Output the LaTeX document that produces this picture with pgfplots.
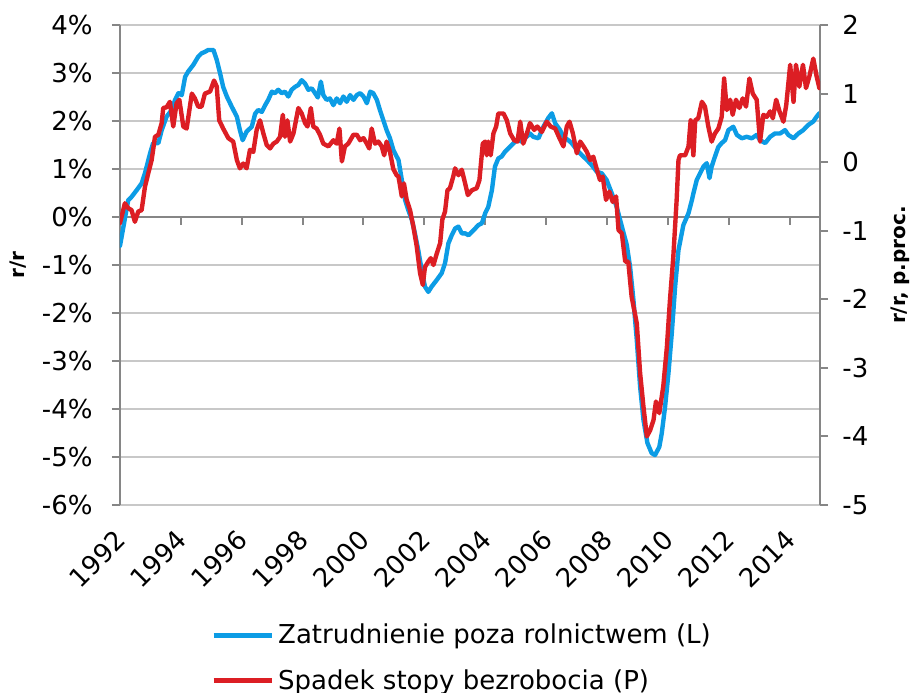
\documentclass[border=0pt]{standalone}
\usepackage{fontspec}
\setmainfont{DejaVu Sans}
\usepackage{pgfplots}
\usepackage{pgfplotstable}
\pgfplotsset{compat=1.18}

\definecolor{zblue}{RGB}{12,156,229}
\definecolor{sred}{RGB}{220,30,36}
\definecolor{gridc}{RGB}{200,200,200}
\definecolor{axc}{RGB}{134,134,134}

% Zatrudnienie poza rolnictwem, r/r w %
\pgfplotstableread{
year val
1992.00 -0.60
1992.27 0.35
1992.38 0.42
1992.55 0.56
1992.71 0.70
1992.82 0.91
1992.99 1.33
1993.09 1.54
1993.26 1.54
1993.37 1.81
1993.53 2.09
1993.70 2.23
1993.81 2.44
1993.92 2.58
1994.03 2.54
1994.14 2.92
1994.24 3.03
1994.41 3.17
1994.57 3.34
1994.68 3.41
1994.79 3.44
1994.90 3.48
1995.07 3.48
1995.18 3.27
1995.29 2.99
1995.39 2.71
1995.51 2.51
1995.67 2.30
1995.84 2.09
1995.94 1.81
1996.03 1.60
1996.16 1.78
1996.33 1.88
1996.44 2.15
1996.54 2.23
1996.66 2.19
1996.77 2.33
1996.87 2.44
1996.99 2.61
1997.09 2.58
1997.20 2.65
1997.31 2.58
1997.42 2.61
1997.53 2.51
1997.64 2.65
1997.75 2.71
1997.86 2.75
1997.97 2.85
1998.08 2.78
1998.19 2.65
1998.30 2.68
1998.41 2.58
1998.50 2.49
1998.60 2.82
1998.68 2.54
1998.79 2.44
1998.90 2.47
1999.01 2.33
1999.12 2.47
1999.23 2.37
1999.34 2.51
1999.45 2.40
1999.56 2.54
1999.67 2.44
1999.78 2.54
1999.89 2.58
2000.00 2.51
2000.11 2.37
2000.22 2.61
2000.32 2.58
2000.44 2.44
2000.54 2.23
2000.65 2.02
2000.76 1.81
2000.87 1.64
2000.98 1.40
2001.09 1.26
2001.15 1.19
2001.26 0.77
2001.37 0.35
2001.47 0.15
2001.59 -0.06
2001.69 -0.34
2001.80 -0.69
2001.91 -1.10
2002.02 -1.45
2002.13 -1.56
2002.24 -1.45
2002.41 -1.31
2002.57 -1.17
2002.68 -0.96
2002.79 -0.55
2002.90 -0.38
2003.01 -0.24
2003.12 -0.20
2003.23 -0.34
2003.34 -0.34
2003.45 -0.38
2003.56 -0.31
2003.67 -0.24
2003.77 -0.17
2003.89 -0.13
2004.00 0.08
2004.10 0.21
2004.22 0.56
2004.32 1.05
2004.43 1.22
2004.54 1.26
2004.65 1.36
2004.76 1.43
2004.87 1.50
2004.98 1.57
2005.09 1.60
2005.20 1.57
2005.31 1.64
2005.47 1.74
2005.58 1.67
2005.75 1.64
2005.91 1.88
2006.07 2.06
2006.19 2.16
2006.30 1.95
2006.46 1.81
2006.57 1.67
2006.73 1.60
2006.84 1.54
2007.01 1.40
2007.17 1.29
2007.34 1.19
2007.50 1.08
2007.67 0.94
2007.83 0.91
2007.99 0.77
2008.16 0.49
2008.32 0.21
2008.49 -0.20
2008.65 -0.58
2008.76 -1.04
2008.87 -1.73
2008.98 -2.56
2009.09 -3.54
2009.20 -4.23
2009.33 -4.71
2009.47 -4.92
2009.58 -4.96
2009.72 -4.79
2009.80 -4.51
2009.91 -3.95
2010.02 -3.26
2010.13 -2.42
2010.24 -1.45
2010.35 -0.69
2010.51 -0.17
2010.68 0.08
2010.79 0.35
2010.84 0.49
2010.95 0.77
2011.06 0.91
2011.17 1.05
2011.28 1.12
2011.37 0.81
2011.44 1.05
2011.55 1.26
2011.66 1.46
2011.77 1.54
2011.88 1.60
2011.99 1.81
2012.15 1.88
2012.27 1.71
2012.43 1.64
2012.59 1.67
2012.76 1.64
2012.92 1.71
2013.03 1.60
2013.20 1.54
2013.36 1.67
2013.52 1.74
2013.69 1.74
2013.85 1.81
2013.96 1.71
2014.13 1.64
2014.29 1.74
2014.45 1.81
2014.62 1.92
2014.78 1.99
2014.89 2.09
2014.98 2.16
}\zatrudnienie

% Spadek stopy bezrobocia, r/r w p.proc.
\pgfplotstableread{
year val
1992.00 -0.89
1992.16 -0.60
1992.27 -0.67
1992.38 -0.70
1992.49 -0.87
1992.60 -0.72
1992.71 -0.70
1992.82 -0.36
1992.93 -0.16
1993.04 0.03
1993.15 0.37
1993.26 0.40
1993.37 0.57
1993.42 0.79
1993.53 0.80
1993.64 0.88
1993.75 0.52
1993.86 0.86
1993.95 0.91
1994.08 0.52
1994.19 0.49
1994.36 1.00
1994.46 0.93
1994.57 0.81
1994.68 0.81
1994.79 1.00
1994.96 1.03
1995.09 1.19
1995.18 1.10
1995.26 0.61
1995.39 0.49
1995.56 0.35
1995.72 0.30
1995.84 0.03
1995.94 -0.09
1996.05 -0.02
1996.16 -0.09
1996.27 0.18
1996.38 0.15
1996.49 0.47
1996.60 0.61
1996.71 0.42
1996.82 0.25
1996.93 0.20
1997.04 0.27
1997.15 0.30
1997.26 0.37
1997.35 0.69
1997.42 0.37
1997.50 0.61
1997.59 0.30
1997.70 0.42
1997.86 0.79
1997.97 0.71
1998.08 0.57
1998.16 0.52
1998.27 0.79
1998.35 0.52
1998.46 0.49
1998.57 0.40
1998.68 0.27
1998.85 0.23
1999.01 0.32
1999.12 0.27
1999.21 0.49
1999.29 0.01
1999.39 0.23
1999.50 0.27
1999.67 0.40
1999.78 0.40
1999.89 0.32
2000.00 0.35
2000.11 0.27
2000.19 0.20
2000.27 0.49
2000.38 0.27
2000.49 0.30
2000.60 0.23
2000.68 0.10
2000.76 0.30
2000.87 0.15
2000.98 -0.10
2001.09 -0.19
2001.15 -0.21
2001.26 -0.50
2001.33 -0.31
2001.42 -0.55
2001.53 -0.70
2001.64 -0.94
2001.75 -1.23
2001.86 -1.62
2001.95 -1.79
2002.02 -1.53
2002.13 -1.45
2002.21 -1.40
2002.30 -1.50
2002.41 -1.33
2002.52 -1.18
2002.59 -0.84
2002.68 -0.72
2002.76 -0.41
2002.84 -0.38
2002.95 -0.21
2003.01 -0.09
2003.12 -0.19
2003.23 -0.11
2003.34 -0.31
2003.43 -0.48
2003.56 -0.41
2003.72 -0.38
2003.81 -0.26
2003.92 0.27
2004.00 0.30
2004.05 0.10
2004.10 0.30
2004.18 0.10
2004.27 0.42
2004.36 0.52
2004.43 0.71
2004.60 0.71
2004.71 0.61
2004.82 0.42
2004.95 0.32
2005.06 0.30
2005.15 0.59
2005.25 0.27
2005.37 0.42
2005.47 0.57
2005.61 0.47
2005.71 0.52
2005.86 0.44
2006.02 0.59
2006.15 0.52
2006.30 0.49
2006.44 0.35
2006.57 0.23
2006.68 0.52
2006.77 0.59
2006.88 0.42
2007.01 0.13
2007.12 0.30
2007.23 0.23
2007.34 0.15
2007.45 0.03
2007.55 0.08
2007.67 -0.11
2007.77 -0.26
2007.86 -0.21
2007.97 -0.55
2008.08 -0.43
2008.19 -0.58
2008.30 -0.50
2008.38 -0.99
2008.49 -1.04
2008.60 -1.45
2008.70 -1.45
2008.81 -1.96
2008.98 -2.35
2009.09 -3.08
2009.20 -3.57
2009.31 -4.00
2009.42 -3.91
2009.53 -3.76
2009.61 -3.49
2009.72 -3.66
2009.85 -3.27
2009.97 -2.69
2010.07 -2.01
2010.18 -1.38
2010.29 -0.55
2010.35 0.03
2010.40 0.10
2010.57 0.10
2010.68 0.23
2010.75 0.61
2010.84 0.10
2010.90 0.61
2011.00 0.64
2011.12 0.88
2011.22 0.81
2011.33 0.52
2011.44 0.30
2011.55 0.42
2011.66 0.49
2011.77 0.66
2011.85 1.22
2011.94 0.76
2012.05 0.91
2012.13 0.69
2012.24 0.91
2012.35 0.79
2012.46 0.93
2012.57 0.81
2012.68 1.22
2012.79 1.00
2012.92 0.91
2013.03 0.30
2013.14 0.69
2013.25 0.66
2013.36 0.74
2013.45 0.64
2013.56 0.91
2013.67 0.74
2013.80 0.59
2013.89 0.83
2014.02 1.42
2014.13 0.88
2014.21 1.42
2014.32 1.10
2014.44 1.42
2014.54 1.08
2014.65 1.25
2014.78 1.51
2014.89 1.25
2014.98 1.08
}\bezrobocie

\pgfplotsset{
  tickfont/.style={font=\fontsize{13}{15}\selectfont},
  serie/.style={line width=2.2pt, line join=round, line cap=round},
}

\begin{document}
\begin{tikzpicture}
\begin{axis}[
  at={(0,0)}, anchor=south west,
  scale only axis, width=350pt, height=240pt,
  xmin=1992, xmax=2015, ymin=-6, ymax=4,
  axis y line*=left, axis x line*=bottom,
  x axis line style={draw=none},
  y axis line style={axc, line width=1pt},
  xtick={1992,1994,1996,1998,2000,2002,2004,2006,2008,2010,2012,2014},
  xticklabels={1992,1994,1996,1998,2000,2002,2004,2006,2008,2010,2012,2014},
  xtick style={draw=none},
  xticklabel style={tickfont, xshift=-3pt, yshift=-7.5pt, rotate=45, anchor=north east, inner sep=0pt},
  ytick={-6,-5,-4,-3,-2,-1,0,1,2,3,4},
  yticklabels={-6\%,-5\%,-4\%,-3\%,-2\%,-1\%,0\%,1\%,2\%,3\%,4\%},
  yticklabel style={tickfont, inner sep=0pt, xshift=-9.5pt},
  ytick style={axc, line width=1pt},
  tick align=outside, major tick length=4pt,
  ymajorgrids, grid style={gridc, line width=0.8pt},
  ylabel={r/r},
  ylabel style={font=\fontsize{10}{12}\bfseries, at={(axis description cs:0,0.5)}, anchor=center, yshift=51pt},
  legend style={at={(0.49,-0.238)}, anchor=north, draw=none, fill=none,
    font=\fontsize{13}{15}\selectfont, row sep=7.5pt, inner sep=0pt},
  legend cell align=left,
  legend image code/.code={\draw[#1, line width=2.5pt, line cap=butt] (0pt,0pt) -- (29pt,0pt);},
]
\draw[axc, line width=1pt] (axis cs:1992,0) -- (axis cs:2015,0);
\draw[axc, line width=1pt] (axis cs:1994,0) -- (axis cs:1994,-0.17);
\draw[axc, line width=1pt] (axis cs:1996,0) -- (axis cs:1996,-0.17);
\draw[axc, line width=1pt] (axis cs:1998,0) -- (axis cs:1998,-0.17);
\draw[axc, line width=1pt] (axis cs:2000,0) -- (axis cs:2000,-0.17);
\draw[axc, line width=1pt] (axis cs:2002,0) -- (axis cs:2002,-0.17);
\draw[axc, line width=1pt] (axis cs:2004,0) -- (axis cs:2004,-0.17);
\draw[axc, line width=1pt] (axis cs:2006,0) -- (axis cs:2006,-0.17);
\draw[axc, line width=1pt] (axis cs:2008,0) -- (axis cs:2008,-0.17);
\draw[axc, line width=1pt] (axis cs:2010,0) -- (axis cs:2010,-0.17);
\draw[axc, line width=1pt] (axis cs:2012,0) -- (axis cs:2012,-0.17);
\draw[axc, line width=1pt] (axis cs:2014,0) -- (axis cs:2014,-0.17);
\addplot[zblue, serie] table[x=year, y=val] {\zatrudnienie};
\addlegendentry{Zatrudnienie poza rolnictwem (L)}
\addlegendimage{sred, serie}
\addlegendentry{Spadek stopy bezrobocia (P)}
\end{axis}

\begin{axis}[
  at={(0,0)}, anchor=south west,
  scale only axis, width=350pt, height=240pt,
  xmin=1992, xmax=2015, ymin=-5, ymax=2,
  axis y line*=right, axis x line=none,
  y axis line style={axc, line width=1pt},
  ytick={-5,-4,-3,-2,-1,0,1,2},
  yticklabels={-5,-4,-3,-2,-1,0,1,2},
  yticklabel style={tickfont, inner sep=0pt, xshift=7pt},
  ytick style={axc, line width=1pt},
  tick align=outside, major tick length=4pt,
  ylabel={r/r, p.proc.},
  ylabel style={font=\fontsize{10}{12}\bfseries, at={(axis description cs:1,0.5)}, anchor=center, yshift=-40pt},
]
\addplot[sred, serie] table[x=year, y=val] {\bezrobocie};
\end{axis}

\pgfresetboundingbox
\path[use as bounding box] (-60pt,-93.5pt) rectangle (395pt,252.5pt);
\end{tikzpicture}
\end{document}
